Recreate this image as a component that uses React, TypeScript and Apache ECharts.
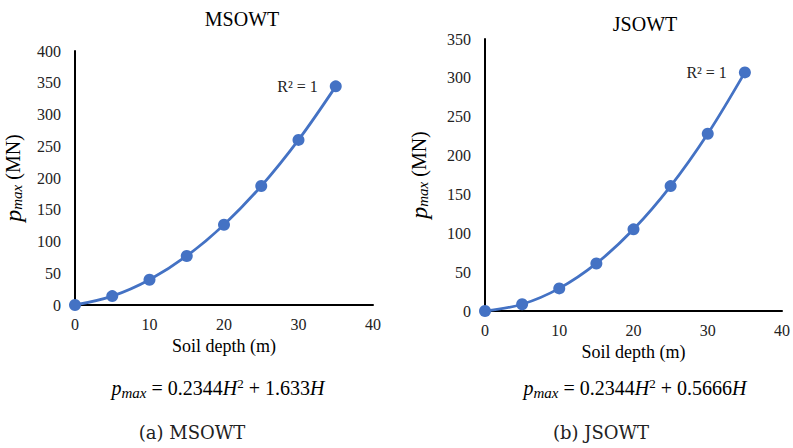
import React, { useEffect, useRef } from "react";
import * as echarts from "echarts";

const depths = [0, 5, 10, 15, 20, 25, 30, 35];
const msowtValues = [0, 14.0, 39.8, 77.2, 126.4, 187.3, 260.0, 344.3];
const jsowtValues = [0, 8.7, 29.1, 61.2, 105.1, 160.7, 228.0, 307.0];
const titles = ["MSOWT", "JSOWT"];
const captions = ["(a) MSOWT", "(b) JSOWT"];
const coefB = ["1.633", "0.5666"];
const coefA = "0.2344";
const xTicks = { min: 0, max: 40, interval: 10 };
const yMax = [400, 350];

const SERIF = "Liberation Serif";
const BLUE = "#4472C4";

export default function App() {
  const ref = useRef<HTMLDivElement>(null);
  useEffect(() => {
    document.body.style.margin = "0";
    const chart = echarts.init(ref.current!, null, { renderer: "svg" });
    const grids = [
      { left: 73, top: 51, width: 300, height: 254 },
      { left: 485, top: 39, width: 297, height: 272 },
    ];
    const yNameGap = [50, 54];
    const xNameGap = [27, 29];
    const mk = (vals: number[]) =>
      depths.map((d, i) =>
        i === depths.length - 1
          ? {
              value: [d, vals[i]],
              label: {
                show: true,
                position: "left",
                distance: 12,
                formatter: "R² = 1",
                fontFamily: SERIF,
                fontSize: 16,
                color: "#222",
              },
            }
          : { value: [d, vals[i]] }
      );
    const option: any = {
      animation: false,
      backgroundColor: "#fff",
      textStyle: { fontFamily: SERIF },
      title: titles.map((t, i) => ({
        text: t,
        left: i === 0 ? 237 : 640,
        top: i === 0 ? 4 : 9,
        textAlign: "center",
        textStyle: { fontFamily: SERIF, fontSize: 20, fontWeight: "normal", color: "#000" },
      })),
      grid: grids,
      xAxis: grids.map((_, i) => ({
        type: "value",
        gridIndex: i,
        min: xTicks.min,
        max: xTicks.max,
        interval: xTicks.interval,
        name: "Soil depth (m)",
        nameLocation: "middle",
        nameGap: xNameGap[i],
        nameTextStyle: { fontFamily: SERIF, fontSize: 18, color: "#000" },
        axisLine: { lineStyle: { color: "#000", width: 2 } },
        axisTick: { show: false },
        splitLine: { show: false },
        axisLabel: { fontFamily: SERIF, fontSize: 16, color: "#222", margin: 11 },
      })),
      yAxis: grids.map((_, i) => ({
        type: "value",
        gridIndex: i,
        min: 0,
        max: yMax[i],
        interval: 50,
        name: "{i|p}{s|max}{n| (MN)}",
        nameLocation: "middle",
        nameGap: yNameGap[i],
        nameTextStyle: {
          fontFamily: SERIF,
          fontSize: 19,
          color: "#000",
          rich: {
            i: { fontFamily: SERIF, fontStyle: "italic", fontSize: 24, color: "#000" },
            s: { fontFamily: SERIF, fontStyle: "italic", fontSize: 15, color: "#000", padding: [8, 0, 0, 0] },
            n: { fontFamily: SERIF, fontSize: 20, color: "#000" },
          },
        },
        axisLine: { show: true, lineStyle: { color: "#000", width: 2 } },
        axisTick: { show: false },
        splitLine: { show: false },
        axisLabel: { fontFamily: SERIF, fontSize: 16, color: "#222", margin: 14 },
      })),
      series: [msowtValues, jsowtValues].map((vals, i) => ({
        type: "line",
        xAxisIndex: i,
        yAxisIndex: i,
        data: mk(vals),
        smooth: 0.35,
        symbol: "circle",
        symbolSize: 12,
        itemStyle: { color: BLUE },
        lineStyle: { color: BLUE, width: 2.8 },
      })),
      graphic: [
        ...coefB.map((b, i) => ({
          type: "text",
          x: i === 0 ? 218 : 635,
          y: 388,
          style: {
            text: `{i|p}{s|max}{n| = ${coefA}}{i|H}{p|2}{n| + ${b}}{i|H}`,
            align: "center",
            verticalAlign: "middle",
            font: "20px Liberation Serif",
            fill: "#000",
            rich: {
              i: { fontFamily: SERIF, fontStyle: "italic", fontSize: 20, fill: "#000" },
              n: { fontFamily: SERIF, fontSize: 20, fill: "#000" },
              s: { fontFamily: SERIF, fontStyle: "italic", fontSize: 15, fill: "#000", padding: [9, 0, 0, 0] },
              p: { fontFamily: SERIF, fontSize: 13, fill: "#000", padding: [0, 0, 9, 0] },
            },
          },
        })),
        ...captions.map((c, i) => ({
          type: "text",
          x: i === 0 ? 192 : 601,
          y: 432,
          style: {
            text: c,
            align: "center",
            verticalAlign: "middle",
            font: "18px DejaVu Serif",
            fill: "#222",
          },
        })),
      ],
    };
    chart.setOption(option);
    return () => chart.dispose();
  }, []);
  return (
    <div
      ref={ref}
      style={{ position: "fixed", left: 0, top: 0, width: 793, height: 448, background: "#fff" }}
    />
  );
}
